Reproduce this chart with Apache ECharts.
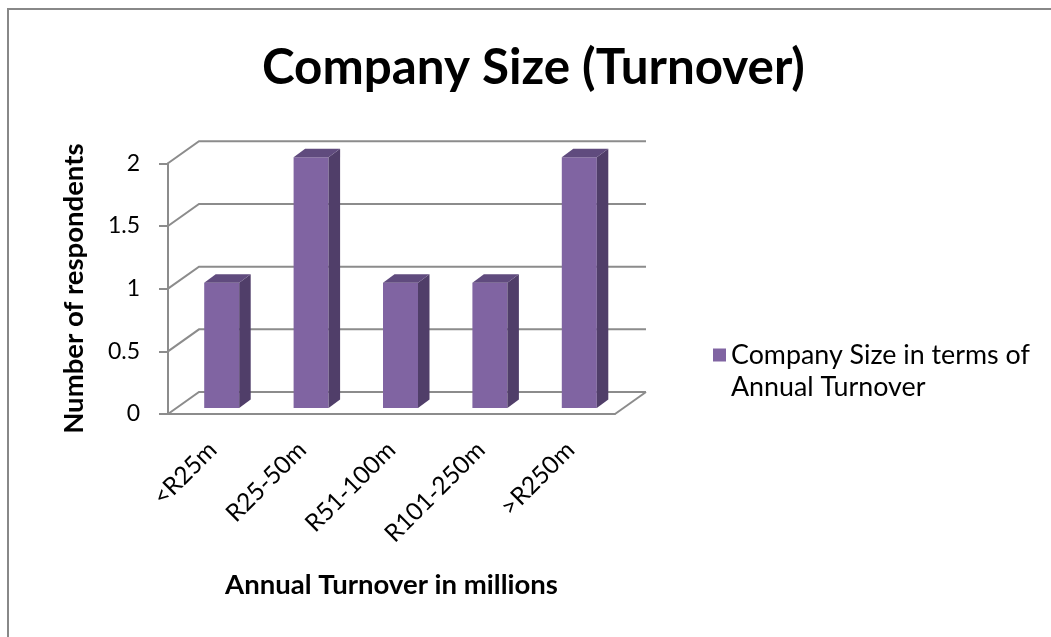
<!DOCTYPE html>
<html>
<head>
<meta charset="utf-8">
<script src="https://cdn.jsdelivr.net/npm/echarts@6/dist/echarts.min.js"></script>
<style>
  html, body { margin: 0; padding: 0; background: #fff; }
  #chart { width: 1051px; height: 637px; }
</style>
</head>
<body>
<div id="chart"></div>
<script>
// ---- data ----
const titleText = 'Company Size (Turnover)';
const categories = ['<R25m', 'R25-50m', 'R51-100m', 'R101-250m', '>R250m'];
const respondents = [1, 2, 1, 1, 2];
const seriesName = 'Company Size in terms of Annual Turnover';
const legendLines = ['Company Size in terms of', 'Annual Turnover'];
const yTicks = [0, 0.5, 1, 1.5, 2];
const xAxisTitle = 'Annual Turnover in millions';
const yAxisTitle = 'Number of respondents';

// ---- styling ----
const FONT = 'Lato';
const GRID_COLOR = '#8c8c8c';
const WALL_DX = 31, WALL_DY = -22;      // depth of the 3D wall
const BAR_SHIFT_X = 9, BAR_SHIFT_Y = -6; // bar position inside the depth
const BAR_DX = 11.5, BAR_DY = -8.5;      // bar depth
const BAR_W = 35;

function fitSize(text, weight, width) {
  const c = document.createElement('canvas').getContext('2d');
  c.font = weight + ' 100px ' + FONT;
  return 100 * width / c.measureText(text).width;
}
const titleSize = fitSize(titleText, 'bold', 543);
const axisTitleSize = fitSize(xAxisTitle, 'bold', 333);
const legendSize = fitSize(legendLines[0], 'normal', 299);
const tickSize = 23;
const xTickSize = 24.5;

const chart = echarts.init(document.getElementById('chart'), null, { renderer: 'canvas' });

function wallItem(params, api) {
  const v = api.value(1);
  const band = api.size([1, 0])[0];
  const p0 = api.coord([0, v]);
  const pN = api.coord([categories.length - 1, v]);
  const left = p0[0] - band / 2;
  const right = pN[0] + band / 2;
  const y = p0[1];
  const style = { stroke: GRID_COLOR, lineWidth: 2, fill: null };
  const children = [{
    type: 'polyline',
    shape: { points: [[left, y], [left + WALL_DX, y + WALL_DY], [right + WALL_DX, y + WALL_DY]] },
    style: style
  }];
  if (v === 0) {
    children.push({
      type: 'line',
      shape: { x1: right, y1: y, x2: right + WALL_DX, y2: y + WALL_DY },
      style: style
    });
  }
  return { type: 'group', children: children };
}

function barItem(params, api) {
  const idx = api.value(0);
  const v = api.value(1);
  const base = api.coord([idx, 0]);
  const top = api.coord([idx, v]);
  const xl = base[0] + BAR_SHIFT_X - BAR_W / 2;
  const xr = xl + BAR_W;
  const yb = base[1] + BAR_SHIFT_Y;
  const yt = top[1] + BAR_SHIFT_Y;
  return {
    type: 'group',
    children: [
      { type: 'rect', shape: { x: xl, y: yt, width: BAR_W, height: yb - yt },
        style: { fill: '#8064a2' } },
      { type: 'polygon', shape: { points: [[xr, yt], [xr + BAR_DX, yt + BAR_DY], [xr + BAR_DX, yb + BAR_DY], [xr, yb]] },
        style: { fill: '#503e69' } },
      { type: 'polygon', shape: { points: [[xl, yt], [xl + BAR_DX, yt + BAR_DY], [xr + BAR_DX, yt + BAR_DY], [xr, yt]] },
        style: { fill: '#604b7e' } }
    ]
  };
}

const option = {
  animation: false,
  backgroundColor: '#fff',
  title: {
    text: titleText,
    left: 262,
    top: 73 - titleSize * 0.6,
    padding: 0,
    textStyle: { fontFamily: FONT, fontWeight: 'bold', fontSize: titleSize, color: '#000' }
  },
  legend: {
    data: [{ name: seriesName, icon: 'rect' }],
    left: 713,
    top: 307,
    padding: 0,
    itemWidth: 13,
    itemHeight: 13,
    itemGap: 8,
    formatter: () => '\n' + legendLines.join('\n'),
    textStyle: { fontFamily: FONT, fontSize: legendSize, color: '#000', lineHeight: 32 }
  },
  grid: { left: 168, right: 436, top: 163.3, bottom: 223, containLabel: false },
  xAxis: {
    type: 'category',
    data: categories,
    name: xAxisTitle,
    nameLocation: 'middle',
    nameGap: 157,
    nameTextStyle: { fontFamily: FONT, fontWeight: 'bold', fontSize: axisTitleSize, color: '#000' },
    axisLine: { show: true, lineStyle: { color: GRID_COLOR, width: 2 } },
    axisTick: { show: false },
    axisLabel: { rotate: 45, margin: 32, fontFamily: FONT, fontSize: xTickSize, color: '#000', interval: 0 },
    splitLine: { show: false }
  },
  yAxis: {
    type: 'value',
    min: 0, max: 2, interval: 0.5,
    name: yAxisTitle,
    nameLocation: 'middle',
    nameGap: 80,
    nameTextStyle: { fontFamily: FONT, fontWeight: 'bold', fontSize: axisTitleSize, color: '#000' },
    axisLine: { show: true, lineStyle: { color: GRID_COLOR, width: 2 } },
    axisTick: { show: true, length: 9, lineStyle: { color: GRID_COLOR, width: 2 } },
    axisLabel: { margin: 28, fontFamily: FONT, fontSize: tickSize, color: '#000' },
    splitLine: { show: false }
  },
  graphic: [
    { type: 'polyline', silent: true, shape: { points: [[8, 637], [8, 9], [1051, 9]] },
      style: { stroke: '#888', lineWidth: 2, fill: null } }
  ],
  series: [
    {
      type: 'custom',
      name: 'walls',
      silent: true,
      z: 1,
      renderItem: wallItem,
      data: yTicks.map(v => [0, v])
    },
    {
      type: 'custom',
      name: seriesName,
      z: 3,
      itemStyle: { color: '#8064a2' },
      renderItem: barItem,
      data: respondents.map((v, i) => [i, v])
    }
  ]
};
chart.setOption(option);
</script>
</body>
</html>
